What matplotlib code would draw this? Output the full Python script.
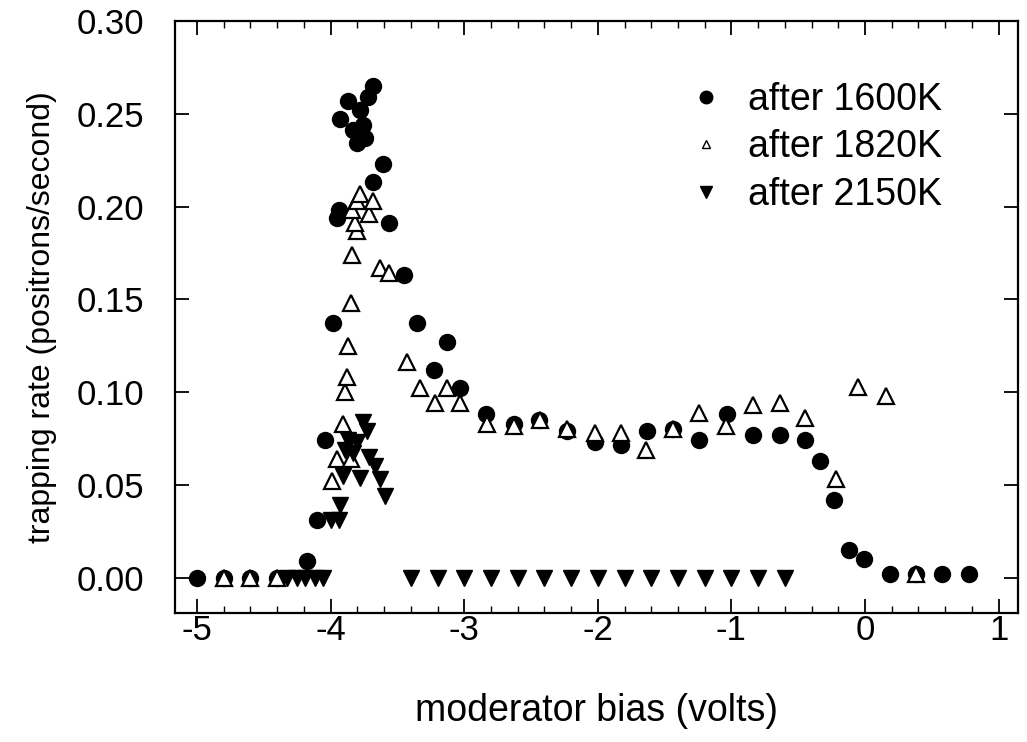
import matplotlib
matplotlib.use("Agg")
import matplotlib.pyplot as plt
from matplotlib.lines import Line2D
from matplotlib.ticker import MultipleLocator, FormatStrFormatter

plt.rcParams['font.family'] = ['Liberation Sans', 'DejaVu Sans']
plt.rcParams['axes.unicode_minus'] = False

# after 1600K (filled circles)
x_1600 = [-5.0, -4.8, -4.6, -4.4, -4.18, -4.10, -4.04, -3.98, -3.95, -3.94, -3.93,
          -3.87, -3.83, -3.80, -3.78, -3.76, -3.74, -3.72, -3.68, -3.68, -3.61,
          -3.56, -3.45, -3.35, -3.23, -3.13, -3.03, -2.84, -2.63, -2.44, -2.23,
          -2.02, -1.83, -1.63, -1.44, -1.24, -1.03, -0.84, -0.64, -0.45, -0.34,
          -0.23, -0.12, -0.01, 0.19, 0.38, 0.58, 0.78]
y_1600 = [0.0, 0.0, 0.0, 0.0, 0.009, 0.031, 0.074, 0.137, 0.194, 0.198, 0.247,
          0.257, 0.241, 0.234, 0.252, 0.244, 0.237, 0.259, 0.213, 0.265, 0.223,
          0.191, 0.163, 0.137, 0.112, 0.127, 0.102, 0.088, 0.083, 0.085, 0.079,
          0.073, 0.0715, 0.079, 0.080, 0.074, 0.088, 0.077, 0.077, 0.074, 0.063,
          0.042, 0.015, 0.010, 0.002, 0.002, 0.002, 0.002]

# after 1820K (open up-triangles)
x_1820 = [-4.8, -4.6, -4.4, -3.99, -3.95, -3.85, -3.91, -3.89, -3.88, -3.87, -3.85,
          -3.84, -3.80, -3.82, -3.84, -3.71, -3.80, -3.78, -3.68, -3.63, -3.56,
          -3.43, -3.33, -3.13, -3.22, -3.03, -2.83, -2.63, -2.43, -2.23, -2.02,
          -1.83, -1.64, -1.44, -1.24, -1.04, -0.84, -0.64, -0.45, -0.22, -0.05,
          0.16, 0.38]
y_1820 = [0.0, 0.0, 0.0, 0.052, 0.064, 0.064, 0.083, 0.100, 0.108, 0.125, 0.148,
          0.174, 0.187, 0.191, 0.198, 0.196, 0.203, 0.207, 0.203, 0.167, 0.164,
          0.116, 0.102, 0.102, 0.094, 0.094, 0.083, 0.082, 0.085, 0.080, 0.078,
          0.078, 0.069, 0.080, 0.089, 0.082, 0.093, 0.094, 0.086, 0.053, 0.103,
          0.098, 0.002]

# after 2150K (filled down-triangles)
x_2150 = [-4.33, -4.25, -4.19, -4.12, -4.06, -4.00, -3.94, -3.93, -3.91, -3.89,
          -3.87, -3.83, -3.80, -3.78, -3.76, -3.73, -3.71, -3.67, -3.63, -3.59,
          -3.4, -3.2, -3.0, -2.8, -2.6, -2.4, -2.2, -2.0, -1.8, -1.6, -1.4, -1.2,
          -1.0, -0.8, -0.6]
y_2150 = [0.0, 0.0, 0.0, 0.0, 0.0, 0.031, 0.031, 0.039, 0.055, 0.069,
          0.074, 0.067, 0.073, 0.054, 0.084, 0.079, 0.065, 0.060, 0.053, 0.044,
          0.0, 0.0, 0.0, 0.0, 0.0, 0.0, 0.0, 0.0, 0.0, 0.0, 0.0, 0.0,
          0.0, 0.0, 0.0]

labels = ['after 1600K', 'after 1820K', 'after 2150K']

fig = plt.figure(figsize=(10.27, 7.42), dpi=100)
ax = fig.add_axes([0.1704, 0.1739, 0.8208, 0.7978])

ax.plot(x_1600, y_1600, linestyle='none', marker='o', ms=11.5,
        mfc='black', mec='black', zorder=3)
ax.plot(x_1820, y_1820, linestyle='none', marker='^', ms=11.5,
        mfc='white', mec='black', mew=1.6, zorder=4)
ax.plot(x_2150, y_2150, linestyle='none', marker='v', ms=11,
        mfc='black', mec='black', zorder=5)

ax.set_xlim(-5.165, 1.145)
ax.set_ylim(-0.019, 0.30)

ax.xaxis.set_major_locator(MultipleLocator(1))
ax.xaxis.set_minor_locator(MultipleLocator(0.2))
ax.yaxis.set_major_locator(MultipleLocator(0.05))
ax.yaxis.set_major_formatter(FormatStrFormatter('%.2f'))

ax.tick_params(axis='both', which='major', direction='in', top=True, right=True,
               length=10, width=1.3, labelsize=25)
ax.tick_params(axis='y', which='major', pad=22)
ax.tick_params(axis='x', which='major', pad=1)
ax.tick_params(axis='x', which='minor', direction='in', top=True, bottom=True,
               length=5, width=1.0)
for s in ax.spines.values():
    s.set_linewidth(1.6)

ax.set_xlabel('moderator bias (volts)', fontsize=27, labelpad=33)
ax.set_ylabel('trapping rate (positrons/second)', fontsize=23, labelpad=14)

handles = [
    Line2D([], [], linestyle='none', marker='o', ms=9, mfc='black', mec='black'),
    Line2D([], [], linestyle='none', marker='^', ms=6, mfc='white', mec='black', mew=1.0),
    Line2D([], [], linestyle='none', marker='v', ms=8, mfc='black', mec='black'),
]
ax.legend(handles, labels, loc='upper left', bbox_to_anchor=(0.586, 0.922),
          frameon=False, fontsize=27, handlelength=1.2, handletextpad=0.5,
          labelspacing=0.3, borderaxespad=0)

fig.savefig('out.png', dpi=100)
